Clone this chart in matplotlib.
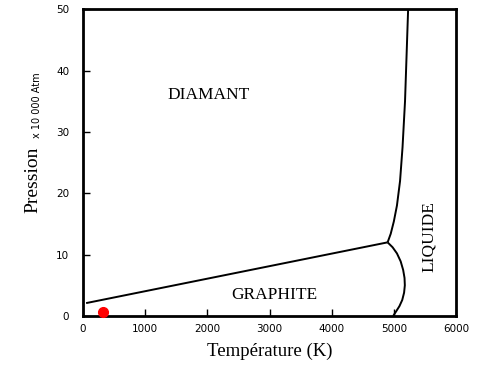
import matplotlib

matplotlib.use("Agg")
import matplotlib.pyplot as plt

# phase boundaries (T in K, P in 10 000 atm)
graphite_diamond_T = [50, 4900]
graphite_diamond_P = [2.1, 12.0]

diamond_liquid_T = [4900, 4950, 5000, 5050, 5100, 5140, 5180, 5230]
diamond_liquid_P = [12.0, 13.4, 15.4, 18.0, 22.0, 27.5, 35.0, 50.0]

graphite_liquid_T = [4900, 4980, 5050, 5110, 5150, 5172, 5177, 5165, 5135, 5090, 5040, 4989]
graphite_liquid_P = [12.0, 11.2, 10.2, 8.9, 7.5, 6.2, 5.0, 3.8, 2.6, 1.6, 0.8, 0.0]

ambient_T = [320]
ambient_P = [0.6]

phase_names = ["DIAMANT", "GRAPHITE", "LIQUIDE"]
phase_T = [2020, 3070, 5560]
phase_P = [36.0, 3.4, 13.0]
phase_rot = [0, 0, 90]

x_ticks = [0, 1000, 2000, 3000, 4000, 5000, 6000]
y_ticks = [0, 10, 20, 30, 40, 50]

serif = "Liberation Serif"

fig = plt.figure(figsize=(5.0, 3.67), dpi=100)
ax = fig.add_axes([0.166, 0.139, 0.746, 0.836])

for T, P in [(graphite_diamond_T, graphite_diamond_P),
             (diamond_liquid_T, diamond_liquid_P),
             (graphite_liquid_T, graphite_liquid_P)]:
    ax.plot(T, P, color="black", lw=1.4, solid_capstyle="butt", solid_joinstyle="round")

ax.plot(ambient_T, ambient_P, "o", color="red", ms=7, clip_on=False, zorder=5)

for name, T, P, rot in zip(phase_names, phase_T, phase_P, phase_rot):
    ax.text(T, P, name, ha="center", va="center", rotation=rot,
            family=serif, fontsize=12.5)

ax.set_xlim(0, 6000)
ax.set_ylim(0, 50)
ax.set_xticks(x_ticks)
ax.set_yticks(y_ticks)
ax.tick_params(direction="in", length=5, width=1, labelsize=7.5)
ax.tick_params(axis="x", pad=6)
ax.tick_params(axis="y", pad=10)
for s in ax.spines.values():
    s.set_linewidth(2)

ax.set_xlabel("Température (K)", family=serif, fontsize=13.5, labelpad=6)

fig.text(0.066, 0.51, "Pression", rotation=90, ha="center", va="center",
         family=serif, fontsize=14)
fig.text(0.075, 0.714, "x 10 000 Atm", rotation=90, ha="center", va="center",
         fontsize=7)

fig.savefig("out.png", dpi=100, facecolor="white")
